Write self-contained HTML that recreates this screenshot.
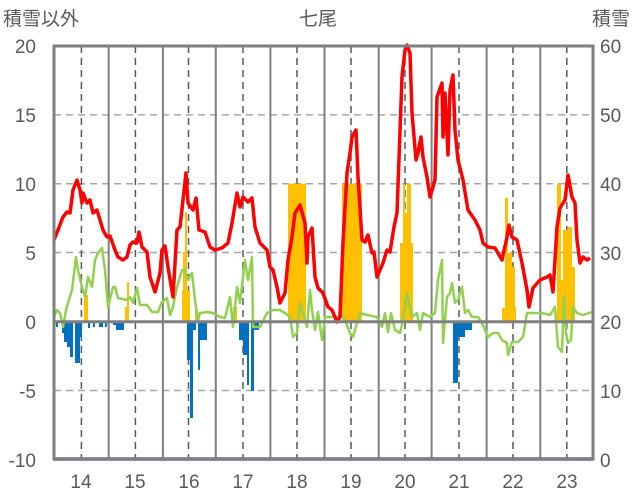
<!DOCTYPE html><html><head><meta charset="utf-8"><style>body{margin:0;background:#fff}svg{display:block}text{font-family:"Liberation Sans","Noto Sans CJK JP",sans-serif;fill:#595959;font-size:19px}</style></head><body>
<svg width="636" height="501" viewBox="0 0 636 501">
<g stroke="#a6a6a6" stroke-width="1.5" stroke-dasharray="7,5">
<line x1="54" x2="593" y1="114.9" y2="114.9"/><line x1="54" x2="593" y1="183.7" y2="183.7"/><line x1="54" x2="593" y1="252.5" y2="252.5"/><line x1="54" x2="593" y1="390.5" y2="390.5"/>
</g>
<g stroke="#595959" stroke-width="1.5" stroke-dasharray="7,5">
<line x1="81.4" x2="81.4" y1="46" y2="459"/><line x1="135.4" x2="135.4" y1="46" y2="459"/><line x1="188.5" x2="188.5" y1="46" y2="459"/><line x1="243" x2="243" y1="46" y2="459"/><line x1="297" x2="297" y1="46" y2="459"/><line x1="351" x2="351" y1="46" y2="459"/><line x1="405" x2="405" y1="46" y2="459"/><line x1="459" x2="459" y1="46" y2="459"/><line x1="513" x2="513" y1="46" y2="459"/><line x1="566.8" x2="566.8" y1="46" y2="459"/>
</g>
<g stroke="#7f7f7f" stroke-width="2">
<line x1="108.7" x2="108.7" y1="46" y2="459"/><line x1="162.9" x2="162.9" y1="46" y2="459"/><line x1="215.8" x2="215.8" y1="46" y2="459"/><line x1="270.4" x2="270.4" y1="46" y2="459"/><line x1="324.5" x2="324.5" y1="46" y2="459"/><line x1="378.7" x2="378.7" y1="46" y2="459"/><line x1="431.6" x2="431.6" y1="46" y2="459"/><line x1="486.6" x2="486.6" y1="46" y2="459"/><line x1="540.3" x2="540.3" y1="46" y2="459"/>
</g>
<g fill="#ffc000">
<rect x="84" y="295" width="4" height="27"/><rect x="125" y="307" width="4" height="15"/><rect x="127" y="282" width="2" height="40"/><rect x="182" y="290" width="8" height="32"/><rect x="183" y="252" width="4" height="70"/><rect x="185" y="212" width="2" height="110"/><rect x="195" y="307" width="2" height="15"/><rect x="233" y="307" width="4" height="15"/>
<rect x="288" y="183.7" width="18" height="138"/><rect x="342" y="183.7" width="20" height="138"/>
<rect x="400" y="243" width="3" height="79"/><rect x="403" y="183.7" width="2" height="138"/><rect x="405" y="213" width="2" height="109"/><rect x="407" y="183.7" width="4" height="138"/><rect x="411" y="243" width="2" height="79"/>
<rect x="502" y="308" width="3" height="14"/><rect x="505" y="198" width="3" height="124"/><rect x="508" y="253" width="4" height="69"/><rect x="512" y="267" width="3" height="55"/><rect x="515" y="307" width="1" height="15"/>
<rect x="557" y="183.7" width="4" height="138"/><rect x="561" y="280" width="2" height="42"/><rect x="563" y="230" width="5" height="92"/><rect x="568" y="227" width="4" height="95"/><rect x="572" y="267" width="3" height="55"/>
</g>
<g fill="#0070c0">
<rect x="56" y="321" width="2" height="6"/><rect x="62" y="321" width="2" height="12"/><rect x="64" y="321" width="3" height="21"/><rect x="67" y="321" width="3" height="26"/><rect x="70" y="321" width="3" height="36"/><rect x="75" y="321" width="5" height="42"/><rect x="80" y="321" width="2" height="16"/><rect x="88" y="321" width="2" height="7"/><rect x="93" y="321" width="2" height="6"/><rect x="99" y="321" width="4" height="6"/><rect x="105" y="321" width="2" height="6"/><rect x="113" y="321" width="4" height="4"/><rect x="116" y="321" width="8" height="9"/>
<rect x="187" y="321" width="3" height="39"/><rect x="190" y="321" width="3" height="97"/><rect x="193" y="321" width="3" height="9"/><rect x="198" y="321" width="2" height="49"/><rect x="200" y="321" width="7" height="19"/>
<rect x="239" y="321" width="4" height="19"/><rect x="243" y="321" width="4" height="34"/><rect x="247" y="321" width="2" height="64"/><rect x="251" y="321" width="3" height="70"/><rect x="254" y="321" width="5" height="9"/>
<rect x="453" y="321" width="5" height="62"/><rect x="458" y="321" width="7" height="16"/><rect x="465" y="321" width="7" height="9"/>
</g>
<polyline fill="none" stroke="#92d050" stroke-width="2.5" stroke-linejoin="round" points="54,317 57,310 60,313 63,327 66,310 68,303 72,290 76,257 78,270 82,287 85,297 88,277 92,287 95,260 98,253 102,248 105,270 108,307 113,287 115,287 118,298 127,300 130,297 133,303 137,288 140,305 147,305 152,312 158,312 162,302 167,298 170,315 173,307 177,287 182,270 185,270 188,280 192,273 195,300 198,320 200,313 207,312 213,313 220,317 225,318 230,297 233,327 237,287 240,303 245,260 248,280 252,257 253,327 260,327 267,313 273,310 280,310 285,313 290,317 293,337 297,333 300,303 303,313 307,327 310,290 312,310 315,330 318,312 322,340 325,317 330,317 337,317 342,315 345,320 350,333 353,337 357,323 360,313 367,315 377,317 382,327 385,313 388,332 391,313 395,330 400,333 403,320 407,293 412,317 417,313 420,330 423,313 430,317 435,313 438,280 442,260 443,343 447,297 450,293 452,283 455,303 458,300 462,287 465,313 468,310 472,317 478,317 482,323 485,330 488,337 493,333 498,333 502,340 507,343 508,355 512,342 518,342 523,337 527,313 535,313 542,313 550,315 555,307 558,347 562,352 564,297 566,333 568,343 571,340 573,307 577,313 583,315 592,312"/>
<polyline fill="none" stroke="#ff0000" stroke-width="3.5" stroke-linejoin="round" points="54,240 58,230 63,217 67,212 70,213 73,190 77,180 80,190 82,203 83,193 87,203 90,200 93,213 97,210 100,220 103,230 107,237 110,236 115,250 118,257 123,260 127,257 130,245 133,242 137,243 139,232 142,247 147,252 150,277 155,292 160,273 162,250 165,246 168,267 173,297 177,230 180,227 183,200 186,173 188,203 193,210 196,198 199,230 205,232 210,247 215,250 222,248 228,243 232,223 237,193 240,207 243,197 248,202 252,198 255,227 260,243 267,250 270,267 273,270 277,287 280,303 285,293 288,260 292,237 295,213 300,205 305,223 307,263 308,237 312,228 315,277 318,288 323,293 328,307 332,310 337,322 340,317 343,243 347,173 350,153 352,137 356,130 358,177 362,240 365,242 368,235 372,253 374,252 377,277 380,270 383,263 387,250 390,252 394,227 397,213 402,77 405,50 407,45 410,53 412,113 416,160 418,153 421,137 423,157 427,177 430,197 433,187 435,180 437,97 442,83 443,137 445,93 448,155 450,90 453,75 455,130 458,160 463,180 468,210 475,220 480,230 483,243 488,247 495,248 502,260 507,237 509,225 512,237 517,240 522,263 527,290 529,307 533,288 540,280 547,277 550,275 553,292 557,227 560,208 565,200 568,175 572,197 575,203 577,240 580,263 583,257 587,260 590,258"/>
<line x1="54" x2="593" y1="321.7" y2="321.7" stroke="#7f7f7f" stroke-width="3"/>
<line x1="54" x2="593" y1="459" y2="459" stroke="#7030a0" stroke-width="3.5"/>
<rect x="54" y="46" width="539" height="413" fill="none" stroke="#7f7f7f" stroke-width="3"/>
<g text-anchor="end"><text x="36" y="53">20</text><text x="36" y="122">15</text><text x="36" y="191">10</text><text x="36" y="260">5</text><text x="36" y="329">0</text><text x="36" y="398">-5</text><text x="36" y="467">-10</text></g>
<g><text x="600" y="53">60</text><text x="600" y="122">50</text><text x="600" y="191">40</text><text x="600" y="260">30</text><text x="600" y="329">20</text><text x="600" y="398">10</text><text x="600" y="467">0</text></g>
<g text-anchor="middle"><text x="81" y="488">14</text><text x="135" y="488">15</text><text x="189" y="488">16</text><text x="243" y="488">17</text><text x="297" y="488">18</text><text x="351" y="488">19</text><text x="405" y="488">20</text><text x="459" y="488">21</text><text x="513" y="488">22</text><text x="567" y="488">23</text>
<text x="318" y="25">七尾</text></g>
<text x="3" y="25">積雪以外</text><text x="592" y="25">積雪</text>
</svg></body></html>
